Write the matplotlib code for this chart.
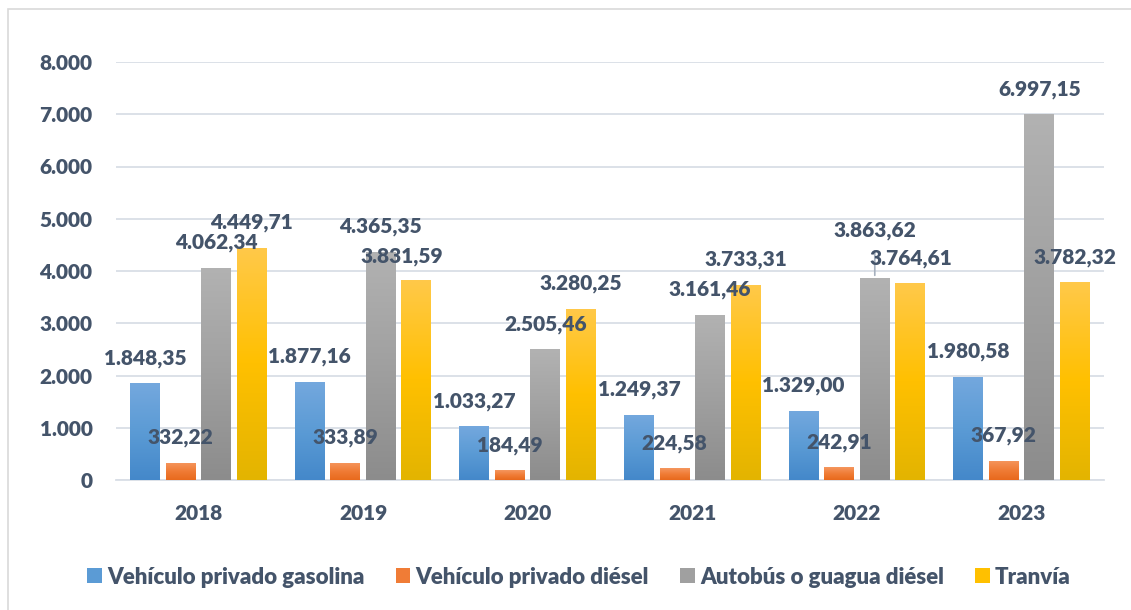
import numpy as np
import matplotlib
matplotlib.use("Agg")
import matplotlib.pyplot as plt
from matplotlib.colors import LinearSegmentedColormap
from matplotlib.patches import Rectangle

# ── data ─────────────────────────────────────────────────────────────────
years = ["2018", "2019", "2020", "2021", "2022", "2023"]
series_names = ["Vehículo privado gasolina", "Vehículo privado diésel",
                "Autobús o guagua diésel", "Tranvía"]
gasolina = [1848.35, 1877.16, 1033.27, 1249.37, 1329.00, 1980.58]
diesel = [332.22, 333.89, 184.49, 224.58, 242.91, 367.92]
autobus = [4062.34, 4365.35, 2505.46, 3161.46, 3863.62, 6997.15]
tranvia = [4449.71, 3831.59, 3280.25, 3733.31, 3764.61, 3782.32]
y_ticks = [0, 1000, 2000, 3000, 4000, 5000, 6000, 7000, 8000]

# ── style ────────────────────────────────────────────────────────────────
TEXT_CLR = "#44546A"
GRID_CLR = "#D9DEE6"
FONT = "Lato"
FS = 15
WEIGHT = "heavy"
GRADIENTS = [
    ["#74A8DE", "#5B9BD5", "#4488CA"],   # blue
    ["#F5975F", "#F07C36", "#E8691C"],   # orange
    ["#B2B2B2", "#A0A0A0", "#8C8C8C"],   # gray
    ["#FFC94A", "#FFC000", "#E3B400"],   # yellow
]
# label nudges in pixels (dx, dy) for a few hand-moved labels
NUDGE = {(1, 3): (-15, -2), (4, 2): (0, 23)}


def fmt_es(v, dec=2):
    s = f"{v:,.{dec}f}"
    return s.replace(",", "X").replace(".", ",").replace("X", ".")


fig = plt.figure(figsize=(11.31, 6.10), dpi=100, facecolor="white")
ax = fig.add_axes([116 / 1131, 1 - 480 / 610, (1104 - 116) / 1131, (480 - 62) / 610])

# outer chart frame (only left/top visible in the crop)
fig.patches.append(Rectangle((8 / 1131, -0.1), 1.2, 1 - 9 / 610 + 0.1,
                             transform=fig.transFigure, facecolor="none",
                             edgecolor="#D9D9D9", linewidth=1.2, zorder=0))

x = np.arange(len(years))
width = 0.182
step = 0.216
data = [gasolina, diesel, autobus, tranvia]

grad = np.linspace(0, 1, 256).reshape(-1, 1)
for i, (vals, stops, name) in enumerate(zip(data, GRADIENTS, series_names)):
    offs = (i - 1.5) * step
    bars = ax.bar(x + offs, vals, width, color=stops[1], label=name, zorder=2)
    cmap = LinearSegmentedColormap.from_list(f"g{i}", stops[::-1])
    for j, b in enumerate(bars):
        x0, y0 = b.get_x(), b.get_y()
        w, h = b.get_width(), b.get_height()
        im = ax.imshow(grad, cmap=cmap, aspect="auto", origin="lower",
                       extent=[x0, x0 + w, y0, y0 + h], zorder=3)
        im.set_clip_path(b)

        dx, dy = NUDGE.get((j, i), (0, 0))
        xy = (x0 + w / 2, y0 + h)
        if (j, i) == (4, 2):
            ax.annotate("", xy=xy, xytext=(0, 30), textcoords="offset pixels",
                        arrowprops=dict(arrowstyle="-", color="#A6B0BE", lw=1.2),
                        zorder=4)
        ax.annotate(fmt_es(vals[j]), xy=xy, xytext=(dx, 25 + dy),
                    textcoords="offset pixels", ha="center", va="center",
                    fontsize=FS, fontweight=WEIGHT, color=TEXT_CLR,
                    family=FONT, zorder=5)

ax.set_xlim(-0.5, 5.5)
ax.set_ylim(0, 8000)
ax.set_yticks(y_ticks)
ax.set_yticklabels([fmt_es(t, 0) for t in y_ticks])
ax.set_xticks(x)
ax.set_xticklabels(years)
for lab in ax.get_xticklabels() + ax.get_yticklabels():
    lab.set_fontfamily(FONT)
    lab.set_fontweight(WEIGHT)
    lab.set_fontsize(FS)
    lab.set_color(TEXT_CLR)
ax.tick_params(axis="y", length=0, pad=17)
ax.tick_params(axis="x", length=0, pad=17)
ax.grid(axis="y", color=GRID_CLR, linewidth=1.3, zorder=0)
ax.set_axisbelow(True)
for s in ["top", "right", "left"]:
    ax.spines[s].set_visible(False)
ax.spines["bottom"].set_color(GRID_CLR)
ax.spines["bottom"].set_linewidth(1.3)

handles = [Rectangle((0, 0), 1, 1, facecolor=g[1], edgecolor="none") for g in GRADIENTS]
fig.legend(handles, series_names, loc="center", bbox_to_anchor=(579 / 1131, 1 - 577 / 610),
           ncol=4, frameon=False, handlelength=0.65, handleheight=0.65,
           handletextpad=0.25, columnspacing=1.4,
           prop=dict(family=FONT, weight=WEIGHT, size=16))
for t in fig.legends[0].get_texts():
    t.set_color(TEXT_CLR)

fig.savefig("out.png", dpi=100, facecolor="white")
